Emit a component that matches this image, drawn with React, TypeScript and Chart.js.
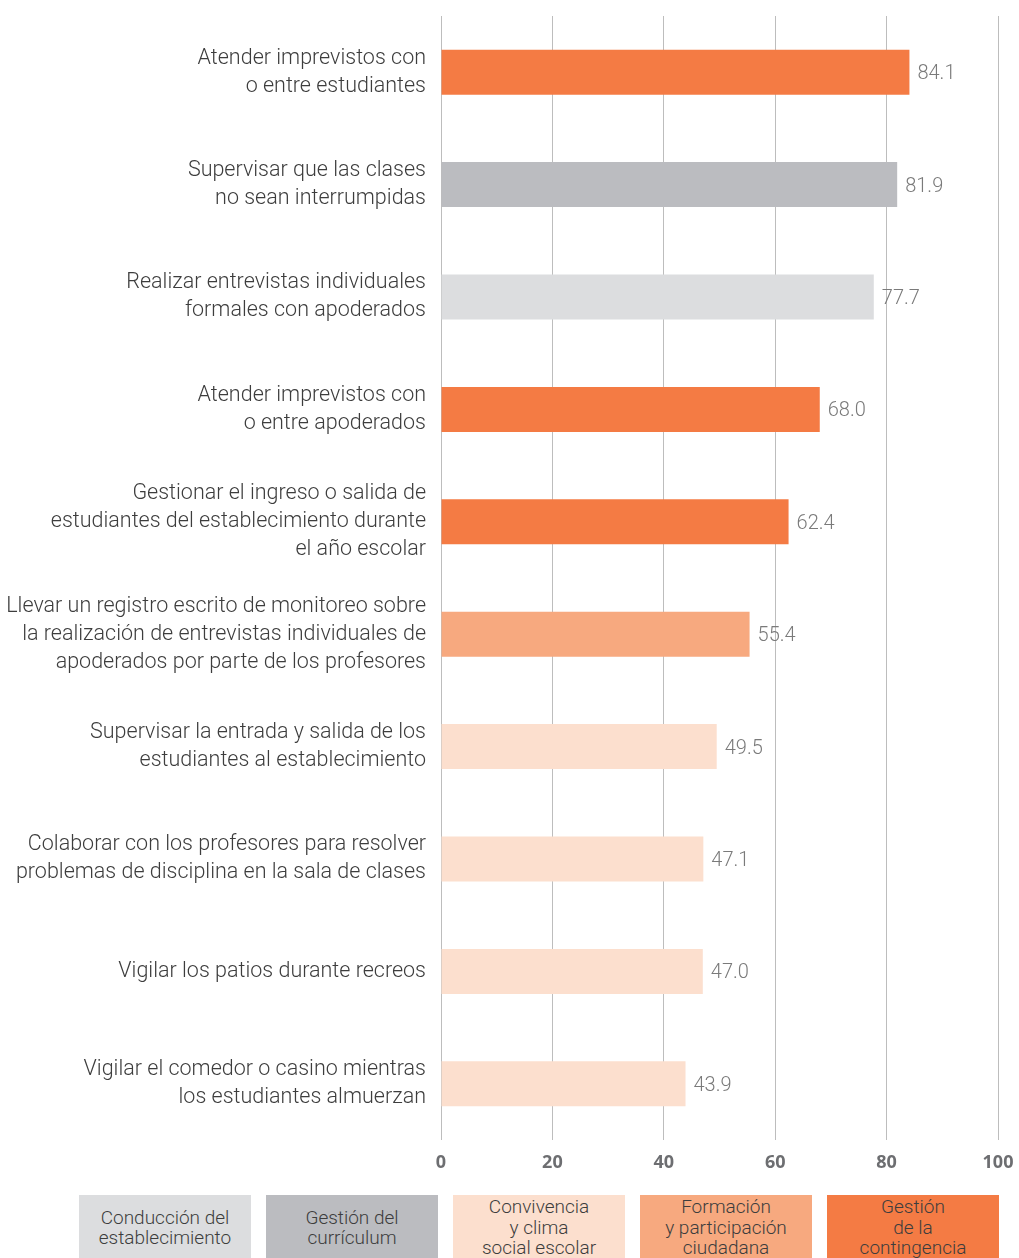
import React, { useEffect, useRef } from "react";
import { Chart, registerables } from "chart.js";

Chart.register(...registerables);

const categories: string[][] = [
  ["Atender imprevistos con", "o entre estudiantes"],
  ["Supervisar que las clases", "no sean interrumpidas"],
  ["Realizar entrevistas individuales", "formales con apoderados"],
  ["Atender imprevistos con", "o entre apoderados"],
  ["Gestionar el ingreso o salida de", "estudiantes del establecimiento durante", "el año escolar"],
  ["Llevar un registro escrito de monitoreo sobre", "la realización de entrevistas individuales de", "apoderados por parte de los profesores"],
  ["Supervisar la entrada y salida de los", "estudiantes al establecimiento"],
  ["Colaborar con los profesores para resolver", "problemas de disciplina en la sala de clases"],
  ["Vigilar los patios durante recreos"],
  ["Vigilar el comedor o casino mientras", "los estudiantes almuerzan"],
];

const values: number[] = [84.1, 81.9, 77.7, 68.0, 62.4, 55.4, 49.5, 47.1, 47.0, 43.9];

// dimension index of each bar (into legendLabels / dimensionColors)
const barDimension: number[] = [4, 1, 0, 4, 4, 3, 2, 2, 2, 2];

const legendLabels: string[][] = [
  ["Conducción del", "establecimiento"],
  ["Gestión del", "currículum"],
  ["Convivencia", "y clima", "social escolar"],
  ["Formación", "y participación", "ciudadana"],
  ["Gestión", "de la", "contingencia"],
];

const dimensionColors: string[] = ["#DCDDDF", "#BBBCC0", "#FCDFCE", "#F7A97F", "#F47B44"];

const tickValues: number[] = [0, 20, 40, 60, 80, 100];

const FONT = "Roboto, 'Open Sans', sans-serif";

export default function App() {
  const ref = useRef<HTMLCanvasElement | null>(null);

  useEffect(() => {
    if (!ref.current) return;
    const valueLabels = {
      id: "valueLabels",
      afterDatasetsDraw(chart: any) {
        const ctx = chart.ctx;
        const meta = chart.getDatasetMeta(0);
        ctx.save();
        ctx.font = `300 20px ${FONT}`;
        ctx.fillStyle = "#7a7a7a";
        ctx.textAlign = "left";
        ctx.textBaseline = "middle";
        meta.data.forEach((bar: any, i: number) => {
          ctx.fillText(values[i].toFixed(1), bar.x + 8, bar.y + 2);
        });
        ctx.restore();
      },
    };
    const chart = new Chart(ref.current, {
      type: "bar",
      data: {
        labels: categories,
        datasets: [
          {
            data: values,
            backgroundColor: barDimension.map((d) => dimensionColors[d]),
            barPercentage: 0.4,
            categoryPercentage: 1,
          },
        ],
      },
      options: {
        indexAxis: "y",
        responsive: false,
        animation: false,
        layout: { padding: { top: 16, right: 21, left: 0, bottom: 0 } },
        plugins: { legend: { display: false }, tooltip: { enabled: false } },
        scales: {
          x: {
            min: 0,
            max: 100,
            afterBuildTicks(scale: any) {
              scale.ticks = tickValues.map((v) => ({ value: v }));
            },
            afterFit(scale: any) {
              scale.height = 45;
              scale.paddingLeft = 0;
              scale.paddingRight = 0;
            },
            grid: { color: "#bdbdbd", lineWidth: 1, drawTicks: false },
            border: { display: false },
            ticks: {
              padding: 12,
              color: "#6d6e71",
              font: { family: "'Open Sans', sans-serif", size: 18, weight: "bold" },
            },
          },
          y: {
            afterFit(scale: any) {
              scale.width = 441;
              scale.paddingTop = 0;
              scale.paddingBottom = 0;
            },
            grid: { display: false, drawTicks: false },
            border: { display: false },
            ticks: {
              padding: 15,
              color: "#3d3d3d",
              font: { family: FONT, size: 21.5, weight: "300", lineHeight: 1.3 },
            },
          },
        },
      },
      plugins: [valueLabels],
    });
    return () => chart.destroy();
  }, []);

  return (
    <div style={{ position: "absolute", left: 0, top: 0, width: 1019, height: 1258, overflow: "hidden", background: "#fff" }}>
      <canvas ref={ref} width={1019} height={1185} style={{ position: "absolute", left: 0, top: 0 }} />
      {legendLabels.map((lines, i) => (
        <div
          key={i}
          style={{
            position: "absolute",
            left: 79 + i * 187,
            top: 1195,
            width: 172,
            height: 66,
            background: dimensionColors[i],
            display: "flex",
            flexDirection: "column",
            justifyContent: "center",
            alignItems: "center",
            fontFamily: FONT,
            fontWeight: 300,
            fontSize: 19,
            lineHeight: "20.5px",
            color: "#3d3d3d",
            textAlign: "center",
          }}
        >
          {lines.map((l, j) => (
            <div key={j}>{l}</div>
          ))}
        </div>
      ))}
    </div>
  );
}
